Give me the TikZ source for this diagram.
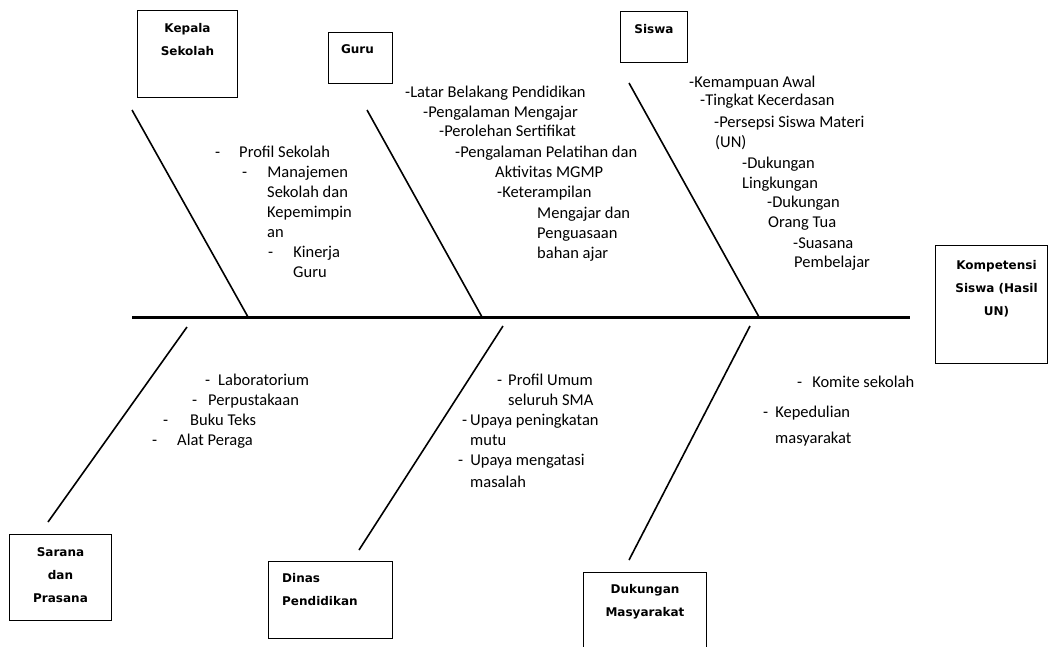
\documentclass[tikz,border=0pt]{standalone}
\usepackage{fontspec}
\setmainfont{Carlito}
\newfontfamily\boxfont{DejaVu Sans}
\usetikzlibrary{positioning}

\begin{document}
\begin{tikzpicture}[x=1pt, y=-1pt,
    box/.style={draw, line width=1pt, inner sep=0pt, anchor=north west},
    boxlabel/.style={font=\boxfont\bfseries\fontsize{12}{23}\selectfont, align=center, inner sep=0pt},
    item/.style={font=\fontsize{16.5}{20}\selectfont, anchor=base west, inner sep=0pt},
    bone/.style={line width=1.6pt}]
  \useasboundingbox (0,0) rectangle (1057,646);

  % cause boxes
  \node[box, minimum width=100pt, minimum height=87pt] (kepala) at (137,10) {};
  \node[box, minimum width=64pt, minimum height=51pt] (guru) at (328,32) {};
  \node[box, minimum width=67pt, minimum height=51pt] (siswa) at (620,11) {};
  \node[box, minimum width=102pt, minimum height=86pt] (sarana) at (9,534) {};
  \node[box, minimum width=124pt, minimum height=77pt] (dinas) at (268,561) {};
  \node[box, minimum width=123pt, minimum height=78pt] (dukungan) at (583,572) {};
  \node[box, minimum width=112pt, minimum height=118pt] (kompetensi) at (935,245) {};

  \node[boxlabel, below=13.5pt of kepala.north] (kepalaT) {Kepala\\Sekolah};
  \node[boxlabel, below=12.5pt of guru.north, xshift=-3pt] (guruT) {Guru};
  \node[boxlabel, below=13.5pt of siswa.north] (siswaT) {Siswa};
  \node[boxlabel, below=13.5pt of sarana.north] (saranaT) {Sarana\\dan\\Prasana};
  \node[boxlabel, align=left, below right=12.5pt and 14pt of dinas.north west] (dinasT) {Dinas\\Pendidikan};
  \node[boxlabel, below=12.5pt of dukungan.north] (dukunganT) {Dukungan\\Masyarakat};
  \node[boxlabel, below=15.5pt of kompetensi.north, xshift=5pt] (kompetensiT) {Kompetensi\\Siswa (Hasil\\UN)};

  % spine
  \coordinate (tail) at (132,317);
  \coordinate (head) at (910,317);
  \draw[line width=3pt] (tail) -- (head);

  % bones
  \coordinate (kepalaTop) at (132,110);  \coordinate (kepalaFoot) at (248,317);
  \coordinate (guruTop) at (367,110);    \coordinate (guruFoot) at (482,317);
  \coordinate (siswaTop) at (629,83);    \coordinate (siswaFoot) at (759,317);
  \coordinate (saranaTop) at (187,327);  \coordinate (saranaFoot) at (48,522);
  \coordinate (dinasTop) at (503,326);   \coordinate (dinasFoot) at (359,550);
  \coordinate (dukunganTop) at (750,326); \coordinate (dukunganFoot) at (629,560);
  \draw[bone] (kepalaTop) -- (kepalaFoot);
  \draw[bone] (guruTop) -- (guruFoot);
  \draw[bone] (siswaTop) -- (siswaFoot);
  \draw[bone] (saranaTop) -- (saranaFoot);
  \draw[bone] (dinasTop) -- (dinasFoot);
  \draw[bone] (dukunganTop) -- (dukunganFoot);

  % items
  \foreach \px/\py/\txt [count=\i] in {215/157/{-\hspace{19pt}Profil Sekolah},
      242/177/{-\hspace{20pt}Manajemen}, 267/197/{Sekolah dan}, 267/217/{Kepemimpin},
      267/237/{an}, 268/257/{-\hspace{20pt}Kinerja}, 293/277/{Guru}}
    \node[item] (kep\i) at (\px,\py) {\txt};

  \foreach \px/\py/\txt [count=\i] in {405/97/{-Latar Belakang Pendidikan},
      423/117/{-Pengalaman Mengajar}, 439/136/{-Perolehan Sertifikat},
      455/157/{-Pengalaman Pelatihan dan}, 495/177/{Aktivitas MGMP},
      497/197/{-Keterampilan}, 537/218/{Mengajar dan}, 537/238/{Penguasaan},
      537/258/{bahan ajar}}
    \node[item] (gur\i) at (\px,\py) {\txt};

  \foreach \px/\py/\txt [count=\i] in {689/87/{-Kemampuan Awal},
      700/105/{-Tingkat Kecerdasan}, 714/127/{-Persepsi Siswa Materi},
      715/147/{(UN)}, 742/168/{-Dukungan}, 742/188/{Lingkungan},
      767/207/{-Dukungan}, 768/227/{Orang Tua}, 793/248/{-Suasana},
      794/267/{Pembelajar}}
    \node[item] (sis\i) at (\px,\py) {\txt};

  \foreach \px/\py/\txt [count=\i] in {205/385/{-\hspace{8pt}Laboratorium},
      192/405/{-\hspace{11pt}Perpustakaan}, 163/425/{-\hspace{22pt}Buku Teks},
      152/445/{-\hspace{20pt}Alat Peraga}}
    \node[item] (sar\i) at (\px,\py) {\txt};

  \foreach \px/\py/\txt [count=\i] in {497/385/{-\hspace{6pt}Profil Umum},
      508/405/{seluruh SMA}, 462/425/{-\hspace{3pt}Upaya peningkatan},
      470/445/{mutu}, 458/465/{-\hspace{7pt}Upaya mengatasi}, 470/487/{masalah}}
    \node[item] (din\i) at (\px,\py) {\txt};

  \foreach \px/\py/\txt [count=\i] in {797/387/{-\hspace{10pt}Komite sekolah},
      763/417/{-\hspace{7pt}Kepedulian}, 775/443/{masyarakat}}
    \node[item] (duk\i) at (\px,\py) {\txt};
\end{tikzpicture}
\end{document}
